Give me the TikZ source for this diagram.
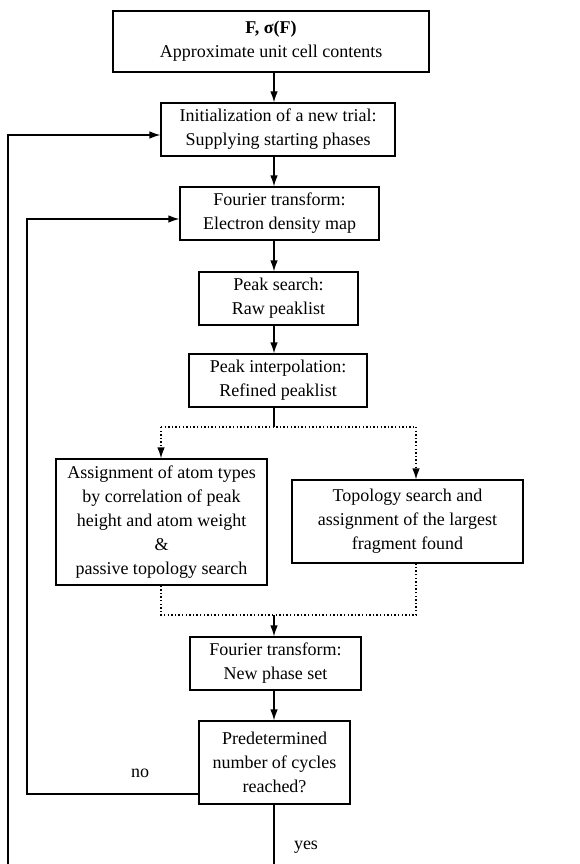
\documentclass[tikz,border=0pt]{standalone}
\usepackage{fontspec}
\setmainfont{Liberation Serif}
\usetikzlibrary{arrows.meta}
\tikzset{
 box/.style={draw,line width=1.2pt,align=center,inner sep=2pt,font=\fontsize{18}{24}\selectfont},
 lbl/.style={font=\fontsize{18}{24}\selectfont},
 arr/.style={line width=1.2pt,-{Latex[length=11pt,width=7.5pt]}},
 dots/.style={line width=1.2pt,dash pattern=on 1.4pt off 2.2pt}
}
\begin{document}
\begin{tikzpicture}[x=1pt,y=-1pt]
\useasboundingbox(0,0)rectangle(579,864);
\node[box,minimum width=316,minimum height=61](cell)at(271,41.5){\textbf{F, σ(F)}\\Approximate unit cell contents};
\node[box,minimum width=234,minimum height=53](trial)at(278,129.5){Initialization of a new trial:\\Supplying starting phases};
\node[box,minimum width=199,minimum height=53](fourier)at(279.5,213.5){Fourier transform:\\Electron density map};
\node[box,minimum width=159,minimum height=53](search)at(278.5,298.5){Peak search:\\Raw peaklist};
\node[box,minimum width=178,minimum height=53](interp)at(278,380.5){Peak interpolation:\\Refined peaklist};
\node[box,minimum width=211,minimum height=126](assign)at(161.5,522){Assignment of atom types\\by correlation of peak\\height and atom weight\\\&\\passive topology search};
\node[box,minimum width=231,minimum height=83](topo)at(407.5,521.5){Topology search and\\assignment of the largest\\fragment found};
\node[box,minimum width=171,minimum height=53](phase)at(275.5,663.5){Fourier transform:\\New phase set};
\node[box,minimum width=151,minimum height=83](cycles)at(274.5,762.5){Predetermined\\number of cycles\\reached?};
\coordinate(spine)at(274,0);
\coordinate(splitL)at(161,427);
\coordinate(splitR)at(416,427);
\coordinate(joinL)at(161,615);
\coordinate(joinR)at(416,615);
\foreach \a/\b in {cell/trial,trial/fourier,fourier/search,search/interp,phase/cycles}{\draw[arr](\a.south-|spine)--(\b.north-|spine);}
\draw[line width=1.2pt](interp.south-|spine)--(spine|-splitL);
\draw[dots](splitL)--(splitR);
\draw[dots,arr](splitL)--(splitL|-assign.north);
\draw[dots,arr](splitR)--(splitR|-topo.north);
\draw[dots](assign.south-|joinL)--(joinL)--(joinR)--(topo.south-|joinR);
\draw[arr](spine|-joinL)--(phase.north-|spine);
\coordinate(noturn)at(27,794);
\draw[arr](cycles.west|-noturn)--(noturn)|-([yshift=-5.5pt]fourier.west);
\node[lbl](no)at(140,773){no};
\coordinate(outerend)at(8,864);
\draw[arr](outerend)|-([yshift=-5.5pt]trial.west);
\coordinate(yesend)at(274,864);
\draw[line width=1.2pt](cycles.south-|spine)--(yesend);
\node[lbl](yes)at(306,847){yes};
\end{tikzpicture}
\end{document}
